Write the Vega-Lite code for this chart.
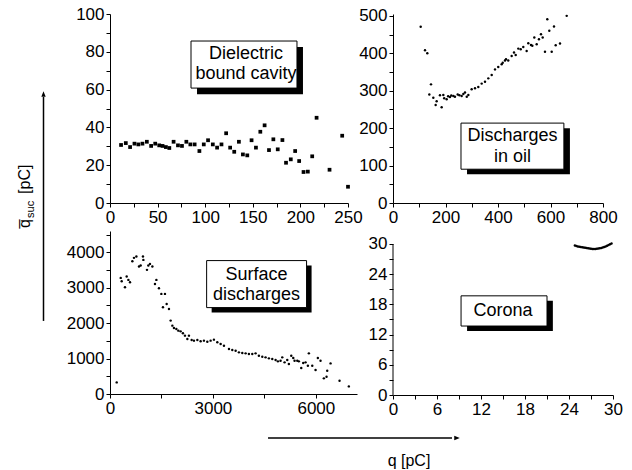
{
  "$schema": "https://vega.github.io/schema/vega-lite/v6.json",
  "padding": {"left": 5, "top": 5, "right": 0, "bottom": 0},
  "bounds": "flush",
  "columns": 3,
  "spacing": {"row": 28, "column": 36},
  "config": {
    "view": {"stroke": null},
    "font": "Liberation Sans",
    "axis": {"grid": false, "domainColor": "black", "tickColor": "black", "labelColor": "black", "labelFont": "Liberation Sans", "labelFontSize": 17, "tickSize": 4, "labelPadding": 2, "labelFlush": false, "labelOverlap": false, "domainWidth": 1, "tickWidth": 1, "tickCount": 30},
    "text": {"font": "Liberation Sans", "color": "black"}
  },
  "datasets": {
    "cavity": [
      {"q": 11.6, "qsuc": 30.7}, {"q": 16.6, "qsuc": 31.7}, {"q": 21.1, "qsuc": 29.6}, {"q": 25.7, "qsuc": 31.4},
      {"q": 29.8, "qsuc": 31.0}, {"q": 34.1, "qsuc": 31.4}, {"q": 38.7, "qsuc": 32.4}, {"q": 43.2, "qsuc": 30.2},
      {"q": 47.5, "qsuc": 31.4}, {"q": 51.7, "qsuc": 30.5}, {"q": 55.2, "qsuc": 30.2}, {"q": 58.7, "qsuc": 29.6},
      {"q": 62.3, "qsuc": 29.1}, {"q": 66.8, "qsuc": 32.4}, {"q": 71.4, "qsuc": 30.5}, {"q": 75.6, "qsuc": 30.2},
      {"q": 80.2, "qsuc": 32.4}, {"q": 84.4, "qsuc": 31.0}, {"q": 88.9, "qsuc": 31.0}, {"q": 93.9, "qsuc": 27.5},
      {"q": 98.5, "qsuc": 31.0}, {"q": 103.0, "qsuc": 33.2}, {"q": 108.0, "qsuc": 31.0}, {"q": 112.5, "qsuc": 29.3},
      {"q": 117.1, "qsuc": 31.0}, {"q": 122.0, "qsuc": 36.9}, {"q": 126.2, "qsuc": 29.3}, {"q": 130.5, "qsuc": 27.1},
      {"q": 135.4, "qsuc": 32.4}, {"q": 139.6, "qsuc": 25.7}, {"q": 144.2, "qsuc": 25.2}, {"q": 148.7, "qsuc": 33.2},
      {"q": 153.3, "qsuc": 29.3}, {"q": 157.9, "qsuc": 37.7}, {"q": 162.4, "qsuc": 41.1}, {"q": 167.0, "qsuc": 28.0},
      {"q": 171.6, "qsuc": 33.7}, {"q": 176.2, "qsuc": 28.4}, {"q": 181.1, "qsuc": 33.3}, {"q": 184.9, "qsuc": 21.3},
      {"q": 189.9, "qsuc": 23.1}, {"q": 194.5, "qsuc": 27.5}, {"q": 198.7, "qsuc": 22.2}, {"q": 203.3, "qsuc": 16.4},
      {"q": 207.8, "qsuc": 16.6}, {"q": 212.4, "qsuc": 24.7}, {"q": 217.0, "qsuc": 45.1}, {"q": 230.6, "qsuc": 17.6},
      {"q": 243.9, "qsuc": 35.6}, {"q": 250.0, "qsuc": 8.6}
    ],
    "oil": [
      {"q": 105.5, "qsuc": 470.7}, {"q": 121.9, "qsuc": 408}, {"q": 130.7, "qsuc": 400}, {"q": 144.8, "qsuc": 317},
      {"q": 138.4, "qsuc": 290}, {"q": 153.6, "qsuc": 281}, {"q": 166.3, "qsuc": 272}, {"q": 179, "qsuc": 288},
      {"q": 162.5, "qsuc": 262}, {"q": 185.4, "qsuc": 256}, {"q": 191.7, "qsuc": 288.5}, {"q": 195, "qsuc": 280},
      {"q": 204.4, "qsuc": 277}, {"q": 210, "qsuc": 285}, {"q": 217, "qsuc": 283}, {"q": 222, "qsuc": 287},
      {"q": 229.8, "qsuc": 286}, {"q": 236, "qsuc": 284}, {"q": 246.4, "qsuc": 290}, {"q": 253, "qsuc": 288},
      {"q": 261.6, "qsuc": 286}, {"q": 268, "qsuc": 291}, {"q": 274.3, "qsuc": 295}, {"q": 281, "qsuc": 284},
      {"q": 287, "qsuc": 288.5}, {"q": 299.6, "qsuc": 304}, {"q": 312.4, "qsuc": 306.5}, {"q": 325, "qsuc": 310},
      {"q": 337.9, "qsuc": 319}, {"q": 350.5, "qsuc": 324}, {"q": 363, "qsuc": 333}, {"q": 376, "qsuc": 342},
      {"q": 388.6, "qsuc": 357}, {"q": 401, "qsuc": 363.5}, {"q": 414, "qsuc": 371}, {"q": 418, "qsuc": 375},
      {"q": 426.7, "qsuc": 381}, {"q": 430.5, "qsuc": 384}, {"q": 439, "qsuc": 381}, {"q": 452, "qsuc": 393},
      {"q": 461, "qsuc": 402}, {"q": 467.4, "qsuc": 395.6}, {"q": 477.3, "qsuc": 412.5}, {"q": 486.5, "qsuc": 411},
      {"q": 496.4, "qsuc": 417}, {"q": 509.2, "qsuc": 406}, {"q": 515.4, "qsuc": 427}, {"q": 525.7, "qsuc": 422},
      {"q": 530.7, "qsuc": 420}, {"q": 538.3, "qsuc": 442}, {"q": 547.4, "qsuc": 424}, {"q": 556, "qsuc": 437.6},
      {"q": 563.8, "qsuc": 451}, {"q": 570.2, "qsuc": 442}, {"q": 579, "qsuc": 404}, {"q": 587.8, "qsuc": 491},
      {"q": 595.4, "qsuc": 460}, {"q": 604.6, "qsuc": 404}, {"q": 613.3, "qsuc": 471.5}, {"q": 619.8, "qsuc": 421.6},
      {"q": 636.2, "qsuc": 426}, {"q": 661.7, "qsuc": 500}
    ],
    "surface": [
      {"q": 195, "qsuc": 328}, {"q": 312, "qsuc": 3277}, {"q": 341, "qsuc": 3181}, {"q": 437, "qsuc": 3011},
      {"q": 486, "qsuc": 3314}, {"q": 536, "qsuc": 3220}, {"q": 583, "qsuc": 3153}, {"q": 652, "qsuc": 3746},
      {"q": 699, "qsuc": 3842}, {"q": 769, "qsuc": 3879}, {"q": 845, "qsuc": 3596}, {"q": 894, "qsuc": 3624},
      {"q": 961, "qsuc": 3879}, {"q": 973, "qsuc": 3785}, {"q": 1078, "qsuc": 3503}, {"q": 1118, "qsuc": 3624},
      {"q": 1165, "qsuc": 3672}, {"q": 1235, "qsuc": 3596}, {"q": 1311, "qsuc": 3107}, {"q": 1352, "qsuc": 3220},
      {"q": 1427, "qsuc": 2983}, {"q": 1497, "qsuc": 2825}, {"q": 1602, "qsuc": 2825}, {"q": 1544, "qsuc": 2446},
      {"q": 1652, "qsuc": 2542}, {"q": 1719, "qsuc": 2401}, {"q": 1768, "qsuc": 2071}, {"q": 1818, "qsuc": 1929},
      {"q": 1864, "qsuc": 1864}, {"q": 1934, "qsuc": 1836}, {"q": 1992, "qsuc": 1788}, {"q": 2059, "qsuc": 1768},
      {"q": 2126, "qsuc": 1712}, {"q": 2185, "qsuc": 1647}, {"q": 2255, "qsuc": 1554}, {"q": 2301, "qsuc": 1647},
      {"q": 2380, "qsuc": 1525}, {"q": 2447, "qsuc": 1506}, {"q": 2546, "qsuc": 1525}, {"q": 2642, "qsuc": 1486},
      {"q": 2738, "qsuc": 1506}, {"q": 2837, "qsuc": 1477}, {"q": 2933, "qsuc": 1506}, {"q": 3029, "qsuc": 1534},
      {"q": 3128, "qsuc": 1458}, {"q": 3225, "qsuc": 1412}, {"q": 3322, "qsuc": 1364}, {"q": 3468, "qsuc": 1271},
      {"q": 3565, "qsuc": 1243}, {"q": 3662, "qsuc": 1223}, {"q": 3758, "qsuc": 1175}, {"q": 3856, "qsuc": 1158},
      {"q": 3953, "qsuc": 1147}, {"q": 4049, "qsuc": 1130}, {"q": 4148, "qsuc": 1130}, {"q": 4244, "qsuc": 1147},
      {"q": 4340, "qsuc": 1082}, {"q": 4439, "qsuc": 1054}, {"q": 4535, "qsuc": 1034}, {"q": 4632, "qsuc": 1006},
      {"q": 4730, "qsuc": 989}, {"q": 4827, "qsuc": 960}, {"q": 4894, "qsuc": 921}, {"q": 4972, "qsuc": 941},
      {"q": 5021, "qsuc": 1034}, {"q": 5089, "qsuc": 893}, {"q": 5167, "qsuc": 960}, {"q": 5214, "qsuc": 847},
      {"q": 5284, "qsuc": 1082}, {"q": 5342, "qsuc": 1017}, {"q": 5380, "qsuc": 941}, {"q": 5459, "qsuc": 941},
      {"q": 5505, "qsuc": 921}, {"q": 5575, "qsuc": 734}, {"q": 5633, "qsuc": 876}, {"q": 5700, "qsuc": 893},
      {"q": 5797, "qsuc": 1147}, {"q": 5768, "qsuc": 800}, {"q": 5896, "qsuc": 800}, {"q": 5992, "qsuc": 678},
      {"q": 6059, "qsuc": 1017}, {"q": 6137, "qsuc": 941}, {"q": 6234, "qsuc": 441}, {"q": 6312, "qsuc": 489},
      {"q": 6332, "qsuc": 658}, {"q": 6429, "qsuc": 864}, {"q": 6691, "qsuc": 376}, {"q": 6962, "qsuc": 215}
    ],
    "corona": [
      {"q": 24.8, "qsuc": 29.7}, {"q": 25.0, "qsuc": 29.6}, {"q": 25.2, "qsuc": 29.5}, {"q": 25.4, "qsuc": 29.45},
      {"q": 25.6, "qsuc": 29.4}, {"q": 25.8, "qsuc": 29.35}, {"q": 26.0, "qsuc": 29.3}, {"q": 26.2, "qsuc": 29.25},
      {"q": 26.4, "qsuc": 29.2}, {"q": 26.6, "qsuc": 29.15}, {"q": 26.8, "qsuc": 29.1}, {"q": 27.0, "qsuc": 29.05},
      {"q": 27.2, "qsuc": 29.0}, {"q": 27.4, "qsuc": 29.0}, {"q": 27.6, "qsuc": 29.0}, {"q": 27.8, "qsuc": 29.05},
      {"q": 28.0, "qsuc": 29.1}, {"q": 28.2, "qsuc": 29.15}, {"q": 28.4, "qsuc": 29.2}, {"q": 28.6, "qsuc": 29.3},
      {"q": 28.8, "qsuc": 29.4}, {"q": 29.0, "qsuc": 29.5}, {"q": 29.2, "qsuc": 29.65}, {"q": 29.4, "qsuc": 29.8},
      {"q": 29.6, "qsuc": 29.95}, {"q": 29.8, "qsuc": 30.1}
    ]
  },
  "concat": [
    {
      "width": 69, "height": 189,
      "data": {"values": [{}]},
      "layer": [
        {"mark": {"type": "rect", "opacity": 0},
         "encoding": {"x": {"datum": 0, "type": "quantitative", "scale": {"domain": [0, 1], "nice": false, "zero": false}, "axis": null}, "x2": {"datum": 1},
                      "y": {"datum": 0, "type": "quantitative", "scale": {"domain": [0, 1], "nice": false, "zero": false}, "axis": null}, "y2": {"datum": 1}}},
        {"mark": {"type": "rule", "color": "black", "strokeWidth": 1.5},
         "encoding": {"x": {"datum": 0.558, "type": "quantitative"}, "y": {"datum": -0.624, "type": "quantitative"}, "y2": {"datum": 0.561}}},
        {"mark": {"type": "point", "shape": "M-0.4,0.5L0,-0.5L0.4,0.5Z", "filled": true, "color": "black", "size": 120, "opacity": 1},
         "encoding": {"x": {"datum": 0.558, "type": "quantitative"}, "y": {"datum": 0.577, "type": "quantitative"}}},
        {"mark": {"type": "text", "text": "q\u0305", "angle": 270, "align": "left", "baseline": "alphabetic", "fontSize": 16},
         "encoding": {"x": {"datum": 0.362, "type": "quantitative"}, "y": {"datum": -0.132, "type": "quantitative"}}},
        {"mark": {"type": "text", "text": "suc", "angle": 270, "align": "left", "baseline": "alphabetic", "fontSize": 11},
         "encoding": {"x": {"datum": 0.42, "type": "quantitative"}, "y": {"datum": -0.079, "type": "quantitative"}}},
        {"mark": {"type": "text", "text": "[pC]", "angle": 270, "align": "left", "baseline": "alphabetic", "fontSize": 16},
         "encoding": {"x": {"datum": 0.362, "type": "quantitative"}, "y": {"datum": 0.048, "type": "quantitative"}}}
      ]
    },
    {
      "width": 238, "height": 189,
      "layer": [
        {"data": {"name": "cavity"},
         "mark": {"type": "square", "filled": true, "color": "black", "size": 14, "opacity": 1},
         "encoding": {
           "x": {"field": "q", "type": "quantitative", "scale": {"domain": [0, 250], "nice": false, "zero": false}, "axis": {"values": [0, 25, 50, 75, 100, 125, 150, 175, 200, 225, 250], "labelExpr": "datum.value % 50 === 0 ? datum.label : ''", "format": "d", "title": null}},
           "y": {"field": "qsuc", "type": "quantitative", "scale": {"domain": [0, 100], "nice": false, "zero": false}, "axis": {"values": [0, 10, 20, 30, 40, 50, 60, 70, 80, 90, 100], "labelExpr": "datum.value % 20 === 0 ? datum.label : ''", "format": "d", "title": null}}}},
        {"data": {"values": [{}]}, "mark": {"type": "rect", "color": "black"},
         "encoding": {"x": {"datum": 91.4, "type": "quantitative"}, "x2": {"datum": 202.7}, "y": {"datum": 57.6, "type": "quantitative"}, "y2": {"datum": 82.5}}},
        {"data": {"values": [{}]}, "mark": {"type": "rect", "fill": "white", "stroke": "black", "strokeWidth": 1},
         "encoding": {"x": {"datum": 85.1, "type": "quantitative"}, "x2": {"datum": 196.4}, "y": {"datum": 60.8, "type": "quantitative"}, "y2": {"datum": 85.7}}},
        {"data": {"values": [{}]}, "mark": {"type": "text", "text": ["Dielectric", "bound cavity"], "fontSize": 18, "lineHeight": 20, "align": "center", "baseline": "middle"},
         "encoding": {"x": {"datum": 142.9, "type": "quantitative"}, "y": {"datum": 78.6, "type": "quantitative"}}}
      ]
    },
    {
      "width": 210, "height": 189,
      "layer": [
        {"data": {"name": "oil"},
         "mark": {"type": "circle", "color": "black", "size": 6, "opacity": 1},
         "encoding": {
           "x": {"field": "q", "type": "quantitative", "scale": {"domain": [0, 800], "nice": false, "zero": false}, "axis": {"values": [0, 100, 200, 300, 400, 500, 600, 700, 800], "labelExpr": "datum.value % 200 === 0 ? datum.label : ''", "format": "d", "title": null}},
           "y": {"field": "qsuc", "type": "quantitative", "scale": {"domain": [0, 505], "nice": false, "zero": false}, "axis": {"values": [0, 50, 100, 150, 200, 250, 300, 350, 400, 450, 500], "labelExpr": "datum.value % 100 === 0 ? datum.label : ''", "format": "d", "title": null}}}},
        {"data": {"values": [{}]}, "mark": {"type": "rect", "color": "black"},
         "encoding": {"x": {"datum": 282, "type": "quantitative"}, "x2": {"datum": 674}, "y": {"datum": 77, "type": "quantitative"}, "y2": {"datum": 200}}},
        {"data": {"values": [{}]}, "mark": {"type": "rect", "fill": "white", "stroke": "black", "strokeWidth": 1},
         "encoding": {"x": {"datum": 259, "type": "quantitative"}, "x2": {"datum": 651}, "y": {"datum": 90.3, "type": "quantitative"}, "y2": {"datum": 213.5}}},
        {"data": {"values": [{}]}, "mark": {"type": "text", "text": ["Discharges", "in oil"], "fontSize": 18, "lineHeight": 21, "align": "center", "baseline": "middle"},
         "encoding": {"x": {"datum": 455, "type": "quantitative"}, "y": {"datum": 178.7, "type": "quantitative"}}}
      ]
    },
    {
      "width": 69, "height": 164,
      "data": {"values": [{}]},
      "mark": {"type": "rect", "opacity": 0},
      "encoding": {"x": {"datum": 0, "type": "quantitative", "scale": {"domain": [0, 1], "nice": false, "zero": false}, "axis": null}, "x2": {"datum": 1},
                   "y": {"datum": 0, "type": "quantitative", "scale": {"domain": [0, 1], "nice": false, "zero": false}, "axis": null}, "y2": {"datum": 1}}
    },
    {
      "width": 247, "height": 163,
      "layer": [
        {"data": {"name": "surface"},
         "mark": {"type": "circle", "color": "black", "size": 6, "opacity": 1},
         "encoding": {
           "x": {"field": "q", "type": "quantitative", "scale": {"domain": [0, 7200], "nice": false, "zero": false}, "axis": {"values": [0, 1500, 3000, 4500, 6000], "labelExpr": "datum.value % 3000 === 0 ? datum.label : ''", "format": "d", "title": null}},
           "y": {"field": "qsuc", "type": "quantitative", "scale": {"domain": [0, 4600], "nice": false, "zero": false}, "axis": {"values": [0, 500, 1000, 1500, 2000, 2500, 3000, 3500, 4000, 4500], "labelExpr": "datum.value % 1000 === 0 ? datum.label : ''", "format": "d", "title": null}}}},
        {"data": {"values": [{}]}, "mark": {"type": "rect", "color": "black"},
         "encoding": {"x": {"datum": 2963, "type": "quantitative"}, "x2": {"datum": 5876}, "y": {"datum": 2297, "type": "quantitative"}, "y2": {"datum": 3624}}},
        {"data": {"values": [{}]}, "mark": {"type": "rect", "fill": "white", "stroke": "black", "strokeWidth": 1},
         "encoding": {"x": {"datum": 2817, "type": "quantitative"}, "x2": {"datum": 5730}, "y": {"datum": 2438, "type": "quantitative"}, "y2": {"datum": 3765}}},
        {"data": {"values": [{}]}, "mark": {"type": "text", "text": ["Surface", "discharges"], "fontSize": 18, "lineHeight": 20, "align": "center", "baseline": "middle"},
         "encoding": {"x": {"datum": 4273, "type": "quantitative"}, "y": {"datum": 3370, "type": "quantitative"}}}
      ]
    },
    {
      "width": 220, "height": 164,
      "layer": [
        {"data": {"name": "corona"},
         "mark": {"type": "circle", "color": "black", "size": 6, "opacity": 1},
         "encoding": {
           "x": {"field": "q", "type": "quantitative", "scale": {"domain": [0, 30], "nice": false, "zero": false}, "axis": {"values": [0, 3, 6, 9, 12, 15, 18, 21, 24, 27, 30], "labelExpr": "datum.value % 6 === 0 ? datum.label : ''", "format": "d", "title": null}},
           "y": {"field": "qsuc", "type": "quantitative", "scale": {"domain": [0, 32.58], "nice": false, "zero": false}, "axis": {"values": [0, 3, 6, 9, 12, 15, 18, 21, 24, 27, 30], "labelExpr": "datum.value % 6 === 0 ? datum.label : ''", "format": "d", "title": null, "domain": false}}}},
        {"data": {"values": [{}]}, "mark": {"type": "rule", "color": "black", "strokeWidth": 1},
         "encoding": {"x": {"datum": 0, "type": "quantitative"}, "y": {"datum": 0, "type": "quantitative"}, "y2": {"datum": 30}}},
        {"data": {"values": [{}]}, "mark": {"type": "rect", "color": "black"},
         "encoding": {"x": {"datum": 10.1, "type": "quantitative"}, "x2": {"datum": 21.8}, "y": {"datum": 12.7, "type": "quantitative"}, "y2": {"datum": 18.7}}},
        {"data": {"values": [{}]}, "mark": {"type": "rect", "fill": "white", "stroke": "black", "strokeWidth": 1},
         "encoding": {"x": {"datum": 9.28, "type": "quantitative"}, "x2": {"datum": 21.0}, "y": {"datum": 13.7, "type": "quantitative"}, "y2": {"datum": 19.7}}},
        {"data": {"values": [{}]}, "mark": {"type": "text", "text": "Corona", "fontSize": 18, "align": "center", "baseline": "middle"},
         "encoding": {"x": {"datum": 15.0, "type": "quantitative"}, "y": {"datum": 16.7, "type": "quantitative"}}}
      ]
    },
    {
      "width": 69, "height": 48,
      "data": {"values": [{}]},
      "layer": [
        {"mark": {"type": "rule", "color": "black", "strokeWidth": 1.5},
         "encoding": {"x": {"datum": 3.812, "type": "quantitative", "scale": {"domain": [0, 1], "nice": false, "zero": false}, "axis": null}, "x2": {"datum": 6.478},
                      "y": {"datum": 0.6875, "type": "quantitative", "scale": {"domain": [0, 1], "nice": false, "zero": false}, "axis": null}}},
        {"mark": {"type": "point", "shape": "M-0.5,-0.4L0.5,0L-0.5,0.4Z", "filled": true, "color": "black", "size": 120, "opacity": 1},
         "encoding": {"x": {"datum": 6.551, "type": "quantitative"}, "y": {"datum": 0.6875, "type": "quantitative"}}},
        {"mark": {"type": "text", "text": "q [pC]", "fontSize": 16, "align": "center", "baseline": "middle"},
         "encoding": {"x": {"datum": 5.855, "type": "quantitative"}, "y": {"datum": 0.208, "type": "quantitative"}}}
      ]
    }
  ]
}
